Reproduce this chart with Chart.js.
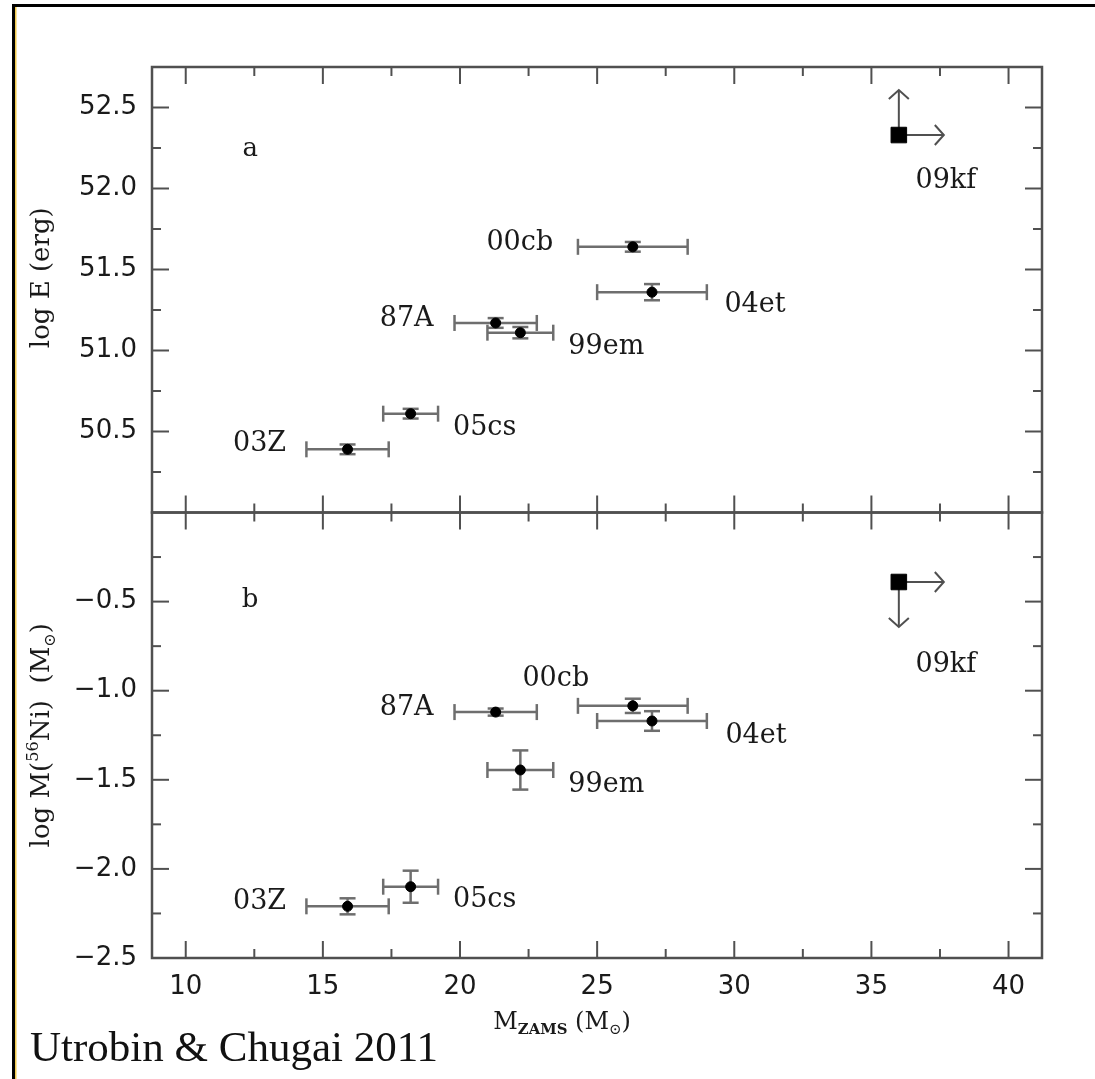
<!DOCTYPE html>
<html>
<head>
<meta charset="utf-8">
<script src="https://cdn.jsdelivr.net/npm/chart.js@4.4.1/dist/chart.umd.min.js"></script>
<style>
  html, body { margin: 0; padding: 0; background: #fff; }
  canvas { display: block; }
</style>
</head>
<body>
<canvas id="snChart" width="1095" height="1079"></canvas>
<script>
// Type IIP supernovae: progenitor mass vs explosion energy / 56Ni mass
const snNames = ['03Z', '05cs', '87A', '99em', '00cb', '04et'];
const massZams = [15.9, 18.2, 21.3, 22.2, 26.3, 27.0];
const massErr = [1.5, 1.0, 1.5, 1.2, 2.0, 2.0];
const logEnergy = [50.39, 50.61, 51.17, 51.11, 51.64, 51.36];
const logEnergyErr = [0.03, 0.03, 0.03, 0.035, 0.03, 0.05];
const logNickel = [-2.21, -2.10, -1.12, -1.445, -1.085, -1.17];
const logNickelErr = [0.045, 0.09, 0.02, 0.11, 0.04, 0.055];

// SN 2009kf only has limits (arrows)
const kfName = '09kf';
const kfMass = 36.0;
const kfEnergy = 52.33;
const kfNickel = -0.39;

// tick values
const xTicks = [10, 15, 20, 25, 30, 35, 40];
const xMinor = [12.5, 17.5, 22.5, 27.5, 32.5, 37.5];
const eTicks = [50.5, 51.0, 51.5, 52.0, 52.5];
const eMinor = [50.25, 50.75, 51.25, 51.75, 52.25];
const niTicks = [-2.5, -2.0, -1.5, -1.0, -0.5];
const niMinor = [-2.25, -1.75, -1.25, -0.75, -0.25];

// label placement relative to each point (px)
const eLabelOffset = [[-88, -5], [74, 14], [-89, -4], [86, 14], [-113, -4], [103, 13]];
const niLabelOffset = [[-88, -4], [74, 13], [-89, -4], [86, 15], [-77, -27], [104, 15]];

const frameColor = '#505050';
const errColor = '#6e6e6e';
const textColor = '#1a1a1a';
const serif = '"DejaVu Serif"';

function line(ctx, x0, y0, x1, y1) {
    ctx.beginPath();
    ctx.moveTo(x0, y0);
    ctx.lineTo(x1, y1);
    ctx.stroke();
}

function drawPanel(ctx, xs, ys, major, minor) {
    const l = xs.left, r = xs.right, t = ys.top, b = ys.bottom;
    ctx.strokeStyle = frameColor;
    ctx.lineWidth = 2.5;
    ctx.strokeRect(l, t, r - l, b - t);
    ctx.lineWidth = 2;
    xTicks.concat(xMinor).forEach(v => {
        const len = xTicks.includes(v) ? 17 : 9;
        const px = xs.getPixelForValue(v);
        line(ctx, px, b, px, b - len);
        line(ctx, px, t, px, t + len);
    });
    major.concat(minor).forEach(v => {
        const len = major.includes(v) ? 17 : 9;
        const py = ys.getPixelForValue(v);
        line(ctx, l, py, l + len, py);
        line(ctx, r, py, r - len, py);
    });
}

function drawErrors(ctx, xs, ys, vals, errs) {
    ctx.strokeStyle = errColor;
    ctx.lineWidth = 2.5;
    massZams.forEach((m, i) => {
        const px = xs.getPixelForValue(m);
        const py = ys.getPixelForValue(vals[i]);
        const x0 = xs.getPixelForValue(m - massErr[i]);
        const x1 = xs.getPixelForValue(m + massErr[i]);
        line(ctx, x0, py, x1, py);
        line(ctx, x0, py - 8, x0, py + 8);
        line(ctx, x1, py - 8, x1, py + 8);
        const y0 = ys.getPixelForValue(vals[i] - errs[i]);
        const y1 = ys.getPixelForValue(vals[i] + errs[i]);
        line(ctx, px, y0, px, y1);
        line(ctx, px - 8, y0, px + 8, y0);
        line(ctx, px - 8, y1, px + 8, y1);
    });
}

function arrow(ctx, x, y, dx, dy) {
    const len = Math.hypot(dx, dy);
    const ux = dx / len, uy = dy / len;
    const tx = x + dx, ty = y + dy;
    ctx.strokeStyle = frameColor;
    ctx.lineWidth = 2;
    line(ctx, x, y, tx, ty);
    ctx.beginPath();
    ctx.moveTo(tx - ux * 9 - uy * 10, ty - uy * 9 + ux * 10);
    ctx.lineTo(tx, ty);
    ctx.lineTo(tx - ux * 9 + uy * 10, ty - uy * 9 - ux * 10);
    ctx.stroke();
}

// draws text with sub/superscript parts, centred on (x, y)
function richText(ctx, parts, x, y, size, rotate) {
    ctx.save();
    ctx.translate(x, y);
    if (rotate) ctx.rotate(-Math.PI / 2);
    const fontOf = p => {
        const s = p[1] ? size * 0.62 : size;
        return (p[2] || '') + ' ' + s + 'px ' + serif;
    };
    let total = 0;
    parts.forEach(p => { ctx.font = fontOf(p); total += ctx.measureText(p[0]).width; });
    let cx = -total / 2;
    ctx.fillStyle = textColor;
    ctx.textBaseline = 'alphabetic';
    ctx.textAlign = 'left';
    parts.forEach(p => {
        ctx.font = fontOf(p);
        const shift = p[1] === 1 ? -size * 0.42 : p[1] === -1 ? size * 0.22 : 0;
        ctx.fillText(p[0], cx, size * 0.36 + shift);
        cx += ctx.measureText(p[0]).width;
    });
    ctx.restore();
}

const panelPlugin = {
    id: 'panels',
    beforeDraw(chart) {
        const ctx = chart.ctx;
        ctx.save();
        ctx.fillStyle = '#fff';
        ctx.fillRect(0, 0, chart.width, chart.height);
        ctx.fillStyle = '#000';
        ctx.fillRect(13, 4, chart.width - 13, 3);
        ctx.fillRect(12, 4, 3, chart.height - 4);
        ctx.fillStyle = '#f2c94c';
        ctx.fillRect(15, 7, 1.5, chart.height - 7);
        ctx.restore();
    },
    beforeDatasetsDraw(chart) {
        const ctx = chart.ctx;
        const { x, yE, yNi } = chart.scales;
        ctx.save();
        drawPanel(ctx, x, yE, eTicks, eMinor);
        drawPanel(ctx, x, yNi, niTicks, niMinor);
        drawErrors(ctx, x, yE, logEnergy, logEnergyErr);
        drawErrors(ctx, x, yNi, logNickel, logNickelErr);
        const kx = x.getPixelForValue(kfMass);
        const ke = yE.getPixelForValue(kfEnergy);
        const kn = yNi.getPixelForValue(kfNickel);
        arrow(ctx, kx, ke, 0, -45);
        arrow(ctx, kx, ke, 45, 0);
        arrow(ctx, kx, kn, 0, 45);
        arrow(ctx, kx, kn, 45, 0);
        ctx.restore();
    },
    afterDraw(chart) {
        const ctx = chart.ctx;
        const { x, yE, yNi } = chart.scales;
        ctx.save();
        ctx.fillStyle = textColor;
        ctx.font = '27px ' + serif;
        ctx.textAlign = 'center';
        ctx.textBaseline = 'middle';
        snNames.forEach((name, i) => {
            const px = x.getPixelForValue(massZams[i]);
            ctx.fillText(name, px + eLabelOffset[i][0], yE.getPixelForValue(logEnergy[i]) + eLabelOffset[i][1]);
            ctx.fillText(name, px + niLabelOffset[i][0], yNi.getPixelForValue(logNickel[i]) + niLabelOffset[i][1]);
        });
        const kx = x.getPixelForValue(kfMass);
        ctx.fillText(kfName, kx + 47, yE.getPixelForValue(kfEnergy) + 46);
        ctx.fillText(kfName, kx + 47, yNi.getPixelForValue(kfNickel) + 83);
        ctx.font = '26px ' + serif;
        ctx.fillText('a', x.getPixelForValue(12.35), yE.getPixelForValue(52.24));
        ctx.fillText('b', x.getPixelForValue(12.35), yNi.getPixelForValue(-0.49));

        richText(ctx, [['log E (erg)', 0]], 40, (yE.top + yE.bottom) / 2 - 12, 26, true);
        richText(ctx, [['log M(', 0], ['56', 1], ['Ni)  (M', 0], ['\u2299', -1], [')', 0]], 40, (yNi.top + yNi.bottom) / 2, 26, true);
        richText(ctx, [['M', 0], ['ZAMS', -1, 'bold'], [' (M', 0], ['\u2299', -1], [')', 0]], 562, 1020, 24, false);

        ctx.font = '43px "Liberation Serif"';
        ctx.textAlign = 'left';
        ctx.textBaseline = 'alphabetic';
        ctx.fillStyle = '#111';
        ctx.fillText('Utrobin & Chugai 2011', 30, 1061);
        ctx.restore();
    }
};

const tickFont = { family: 'DejaVu Sans', size: 26 };
const fmt = v => (v < 0 ? '\u2212' : '') + Math.abs(v).toFixed(1);

new Chart(document.getElementById('snChart'), {
    type: 'scatter',
    data: {
        datasets: [
            {
                data: massZams.map((m, i) => ({ x: m, y: logEnergy[i] })),
                yAxisID: 'yE', pointRadius: 5, backgroundColor: '#000', borderColor: '#000'
            },
            {
                data: massZams.map((m, i) => ({ x: m, y: logNickel[i] })),
                yAxisID: 'yNi', pointRadius: 5, backgroundColor: '#000', borderColor: '#000'
            },
            {
                data: [{ x: kfMass, y: kfEnergy }],
                yAxisID: 'yE', pointStyle: 'rect', pointRadius: 11, backgroundColor: '#000', borderColor: '#000'
            },
            {
                data: [{ x: kfMass, y: kfNickel }],
                yAxisID: 'yNi', pointStyle: 'rect', pointRadius: 11, backgroundColor: '#000', borderColor: '#000'
            }
        ]
    },
    options: {
        responsive: false,
        animation: false,
        events: [],
        layout: { padding: { top: 67, right: 53, left: 0, bottom: 0 } },
        plugins: { legend: { display: false }, tooltip: { enabled: false } },
        scales: {
            x: {
                type: 'linear', min: 8.77, max: 41.22,
                afterBuildTicks: s => { s.ticks = xTicks.map(v => ({ value: v })); },
                afterFit: s => { s.height = 121; },
                grid: { display: false, drawTicks: false },
                border: { display: false },
                ticks: { font: tickFont, color: textColor, padding: 14, autoSkip: false, maxRotation: 0, callback: v => String(v) }
            },
            // stacked axes: the first one defined sits at the bottom
            yNi: {
                type: 'linear', position: 'left', stack: 'panels', stackWeight: 1,
                min: -2.5, max: 0,
                afterBuildTicks: s => { s.ticks = niTicks.map(v => ({ value: v })); },
                afterFit: s => { s.width = 152; },
                grid: { display: false, drawTicks: false },
                border: { display: false },
                ticks: { font: tickFont, color: textColor, padding: 15, autoSkip: false, callback: fmt }
            },
            yE: {
                type: 'linear', position: 'left', stack: 'panels', stackWeight: 1,
                min: 50.0, max: 52.75,
                afterBuildTicks: s => { s.ticks = eTicks.map(v => ({ value: v })); },
                afterFit: s => { s.width = 152; },
                grid: { display: false, drawTicks: false },
                border: { display: false },
                ticks: { font: tickFont, color: textColor, padding: 15, autoSkip: false, callback: fmt }
            }
        }
    },
    plugins: [panelPlugin]
});
</script>
</body>
</html>
